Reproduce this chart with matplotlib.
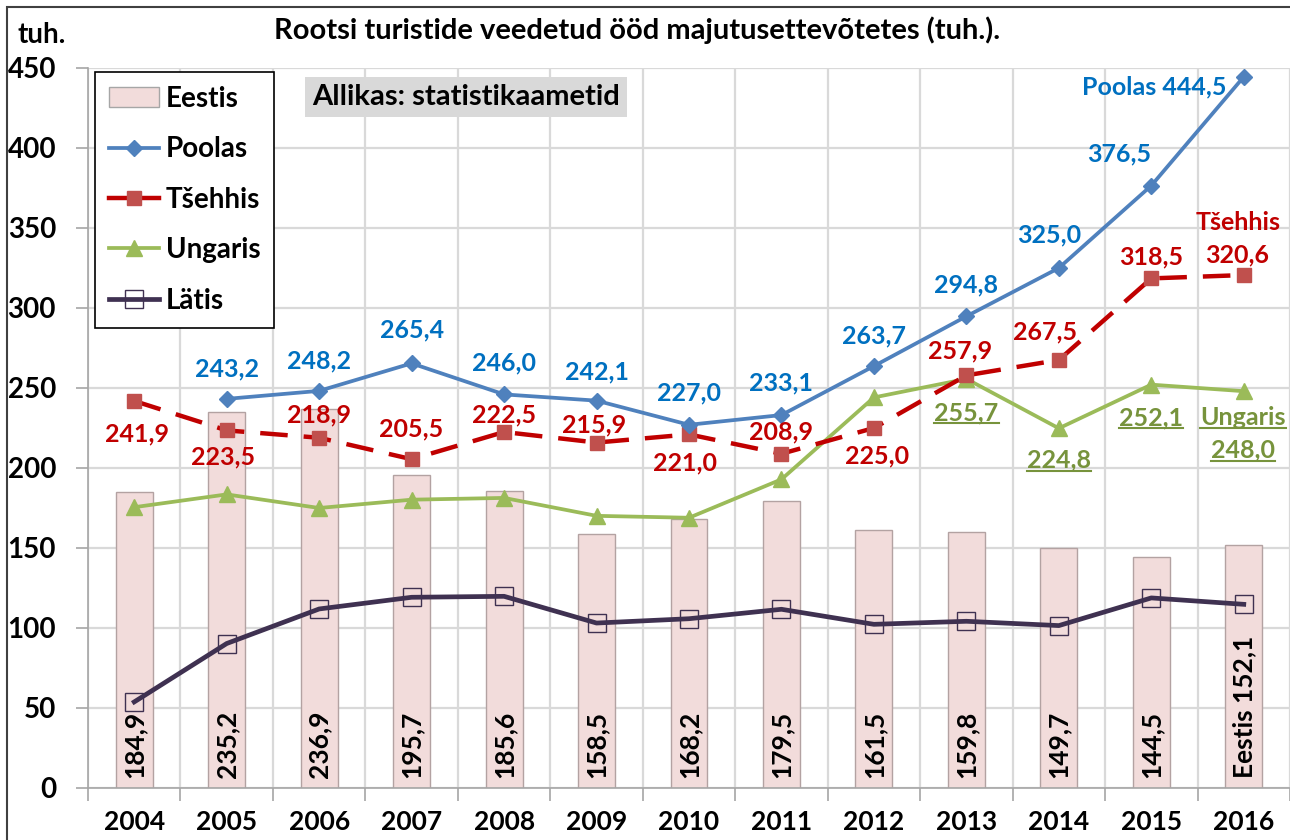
import matplotlib
matplotlib.use("Agg")
import matplotlib.pyplot as plt
from matplotlib.patches import Rectangle, Patch
from matplotlib.lines import Line2D
import numpy as np

plt.rcParams["font.family"] = ["Lato", "DejaVu Sans"]
plt.rcParams["font.weight"] = "bold"

years = ["2004", "2005", "2006", "2007", "2008", "2009", "2010",
         "2011", "2012", "2013", "2014", "2015", "2016"]
eestis = [184.9, 235.2, 236.9, 195.7, 185.6, 158.5, 168.2,
          179.5, 161.5, 159.8, 149.7, 144.5, 152.1]
poolas = [np.nan, 243.2, 248.2, 265.4, 246.0, 242.1, 227.0,
          233.1, 263.7, 294.8, 325.0, 376.5, 444.5]
tsehhis = [241.9, 223.5, 218.9, 205.5, 222.5, 215.9, 221.0,
           208.9, 225.0, 257.9, 267.5, 318.5, 320.6]
ungaris = [175.5, 183.5, 175.0, 180.2, 181.3, 170.1, 168.9,
           192.9, 244.1, 255.7, 224.8, 252.1, 248.0]
latis = [53.8, 90.3, 111.9, 119.2, 119.8, 103.1, 105.8,
         111.7, 102.3, 104.2, 101.5, 118.8, 114.8]


def fmt(v):
    return f"{v:.1f}".replace(".", ",")


# label offsets in pixels (dx, dy) from the point
poolas_off = [None, (0, 30), (0, 30), (0, 33), (0, 31), (0, 29), (0, 32),
              (0, 32), (0, 30), (0, 31), (-10, 33), (-32, 32), None]
tsehhis_off = [(3, -33), (-4, -27), (0, 23), (0, 30), (0, 17), (-2, 18), (-4, -29),
               (0, 22), (3, -28), (-6, 24), (-14, 28), (0, 21), (-7, 20)]

C_POOL = "#4F81BD"
C_POOL_T = "#0070C0"
C_TSE = "#C00000"
C_TSE_M = "#C0504D"
C_UNG = "#9BBB59"
C_UNG_T = "#77933C"
C_LAT = "#3F3151"
LBL = 18

fig = plt.figure(figsize=(12.9, 8.4), dpi=100)
W, H = 1290, 840
ax = fig.add_axes([88 / W, 1 - 788 / H, (1290 - 88) / W, (788 - 68) / H])

x = np.arange(len(years))

ax.bar(x, eestis, width=0.4, color="#F2DCDB", edgecolor="#B3A2A2",
       linewidth=1, zorder=2)
ax.plot(x, latis, color=C_LAT, lw=3.4, marker="s", ms=13, mfc="none",
        mec=C_LAT, mew=1, zorder=3)
ax.plot(x, ungaris, color=C_UNG, lw=2.7, marker="^", ms=11, mfc=C_UNG,
        mec=C_UNG, zorder=4)
ax.plot(x, tsehhis, color=C_TSE, lw=3.2, ls=(0, (6.2, 3.6)), marker="s", ms=10,
        mfc=C_TSE_M, mec=C_TSE_M, zorder=5)
ax.plot(x, poolas, color=C_POOL, lw=2.7, marker="D", ms=8, mfc=C_POOL,
        mec=C_POOL, zorder=6)

ax.set_xlim(-0.5, len(years) - 0.5)
ax.set_ylim(0, 450)
ax.set_yticks(np.arange(0, 451, 50))
ax.set_xticks(x)
ax.set_xticklabels(years)
ax.set_xticks(np.arange(-0.5, len(years), 1), minor=True)
ax.tick_params(axis="x", which="major", length=0, pad=16, labelsize=19)
ax.tick_params(axis="x", which="minor", length=9, color="#A6A6A6", width=1.2)
ax.tick_params(axis="y", length=9, color="#A6A6A6", width=1.2, pad=14,
               labelsize=20)
for lab in ax.get_xticklabels() + ax.get_yticklabels():
    lab.set_fontweight("bold")
ax.grid(True, axis="y", color="#D9D9D9", lw=1.6, zorder=0)
ax.grid(True, axis="x", which="minor", color="#D9D9D9", lw=1.6, zorder=0)
ax.set_axisbelow(True)
for s in ["top", "right"]:
    ax.spines[s].set_visible(False)
for s in ["left", "bottom"]:
    ax.spines[s].set_color("#A6A6A6")
    ax.spines[s].set_linewidth(1.2)

# bar labels
for i, v in enumerate(eestis):
    txt = fmt(v) if i < len(years) - 1 else "Eestis " + fmt(v)
    ax.text(i, 6, txt, rotation=90, ha="center", va="bottom",
            fontsize=19, fontweight="bold", color="black", zorder=7)

# Poolas labels
for i, v in enumerate(poolas):
    if poolas_off[i] is None:
        continue
    ax.annotate(fmt(v), (i, v), xytext=poolas_off[i], textcoords="offset pixels",
                ha="center", va="center", fontsize=LBL, fontweight="bold",
                color=C_POOL_T, zorder=8)
ax.annotate("Poolas " + fmt(poolas[-1]), (12, poolas[-1]), xytext=(-17, -10),
            textcoords="offset pixels", ha="right", va="center", fontsize=LBL,
            fontweight="bold", color=C_POOL_T, zorder=8)

# Tsehhis labels
for i, v in enumerate(tsehhis):
    ax.annotate(fmt(v), (i, v), xytext=tsehhis_off[i], textcoords="offset pixels",
                ha="center", va="center", fontsize=LBL, fontweight="bold",
                color=C_TSE, zorder=8)
ax.annotate("Tšehhis", (12, tsehhis[-1]), xytext=(-6, 53),
            textcoords="offset pixels", ha="center", va="center", fontsize=LBL,
            fontweight="bold", color=C_TSE, zorder=8)

# Ungaris labels (underlined)
ung_texts = []
for i, dy in [(9, -34), (10, -32), (11, -33)]:
    t = ax.annotate(fmt(ungaris[i]), (i, ungaris[i]), xytext=(0, dy),
                    textcoords="offset pixels", ha="center", va="center",
                    fontsize=LBL, fontweight="bold", color=C_UNG_T, zorder=8)
    ung_texts.append(t)
t = ax.annotate("Ungaris", (12, ungaris[-1]), xytext=(-1, -26),
                textcoords="offset pixels", ha="center", va="center",
                fontsize=LBL, fontweight="bold", color=C_UNG_T, zorder=8)
ung_texts.append(t)
t = ax.annotate(fmt(ungaris[-1]), (12, ungaris[-1]), xytext=(-1, -59),
                textcoords="offset pixels", ha="center", va="center",
                fontsize=LBL, fontweight="bold", color=C_UNG_T, zorder=8)
ung_texts.append(t)

# legend
handles = [
    Patch(facecolor="#F2DCDB", edgecolor="#A6A6A6", label="Eestis"),
    Line2D([], [], color=C_POOL, lw=2.7, marker="D", ms=8, label="Poolas"),
    Line2D([], [], color=C_TSE, lw=3.2, marker="s", ms=10, mfc=C_TSE_M,
           mec=C_TSE_M, label="Tšehhis"),
    Line2D([], [], color=C_UNG, lw=2.7, marker="^", ms=11, label="Ungaris"),
    Line2D([], [], color=C_LAT, lw=3.4, marker="s", ms=13, mfc="none",
           mew=1, label="Lätis"),
]
leg = ax.legend(handles=handles, loc="upper left",
                bbox_to_anchor=(95 / W, 1 - 72 / H),
                bbox_transform=fig.transFigure, fontsize=20, frameon=True,
                fancybox=False, edgecolor="black", framealpha=1,
                labelspacing=0.88, handlelength=1.8, handletextpad=0.25,
                borderpad=0.5, borderaxespad=0)
leg.get_frame().set_linewidth(1.2)
for txt in leg.get_texts():
    txt.set_fontweight("bold")
leg.set_zorder(10)

fig.text(466 / W, 1 - 97 / H, "Allikas: statistikaametid",
         ha="center", va="center", fontsize=21, fontweight="bold",
         bbox=dict(facecolor="#D9D9D9", edgecolor="none", pad=5))

fig.text(637 / W, 1 - 30 / H,
         "Rootsi turistide veedetud ööd majutusettevõtetes (tuh.).",
         ha="center", va="center", fontsize=21, fontweight="bold")
fig.text(42 / W, 1 - 35 / H, "tuh.", ha="center", va="center",
         fontsize=20, fontweight="bold")

# chart area border
fig.patches.append(Rectangle((7 / W, -0.01), 1.1, 1 - 7 / H + 0.01,
                             transform=fig.transFigure, fill=False,
                             edgecolor="#404040", lw=1.5))

# underline the Ungaris labels
fig.canvas.draw()
renderer = fig.canvas.get_renderer()
inv = fig.transFigure.inverted()
for t in ung_texts:
    bb = t.get_window_extent(renderer)
    (x0, y0), (x1, _) = inv.transform([(bb.x0, bb.y0 + 1), (bb.x1, bb.y0)])
    fig.add_artist(Line2D([x0, x1], [y0, y0], transform=fig.transFigure,
                          color=C_UNG_T, lw=1.5))

fig.savefig("out.png", dpi=100)
